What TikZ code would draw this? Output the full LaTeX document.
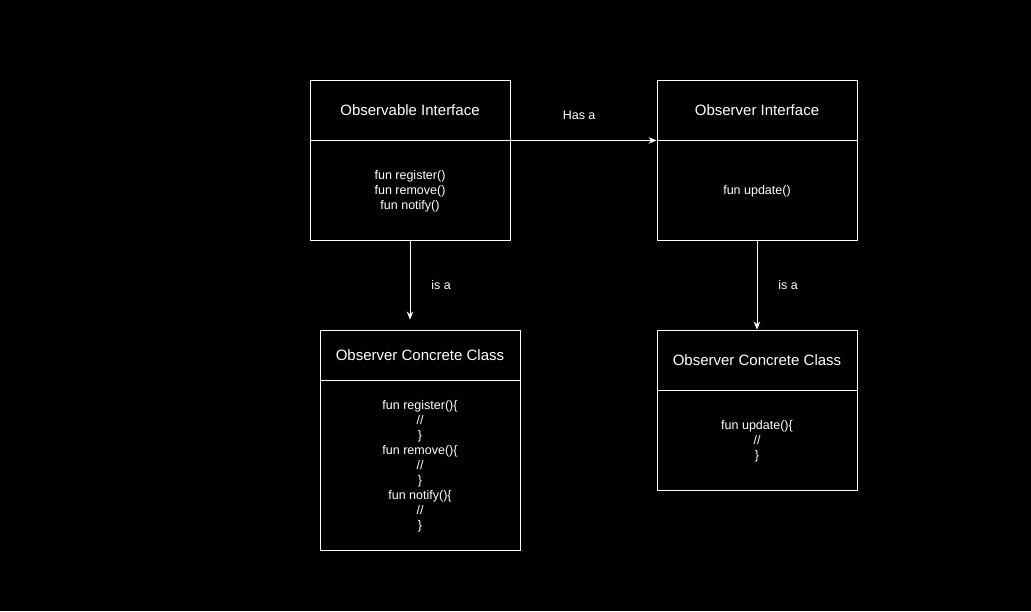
\documentclass[tikz,border=0pt]{standalone}
\usepackage{fontspec}
\setmainfont{Liberation Sans}
\usetikzlibrary{arrows.meta, positioning}

\begin{document}
\begin{tikzpicture}[x=1pt, y=-1pt,
		part/.style = {draw=white, line width=0.9pt, text=white, minimum width=200pt, inner sep=0pt, align=center},
		head/.style = {part, minimum height=60pt, font=\fontsize{15}{17}\selectfont},
		body/.style = {part, font=\fontsize{12.5}{15}\selectfont},
		link/.style = {draw=white, line width=0.9pt, -{Stealth[length=8pt, width=6.5pt]}},
		tag/.style = {text=white, inner sep=0pt, font=\fontsize{12.5}{14}\selectfont}]
		\fill[black] (0,0) rectangle (1031,611);

		% interfaces
		\node[head] (obsHead) at (410,110) {Observable Interface};
		\node[body, minimum height=100pt, below=0pt of obsHead] (obsBody) {fun register()\\fun remove()\\fun notify()};
		\node[head] (obrHead) at (757,110) {Observer Interface};
		\node[body, minimum height=100pt, below=0pt of obrHead] (obrBody) {fun update()};

		% concrete classes
		\node[head, minimum height=50pt] (concLHead) at (420,355) {Observer Concrete Class};
		\node[body, minimum height=170pt, below=0pt of concLHead] (concLBody) {fun register()\{\\//\\\}\\fun remove()\{\\//\\\}\\fun notify()\{\\//\\\}};
		\node[head] (concRHead) at (757,360) {Observer Concrete Class};
		\node[body, minimum height=100pt, below=0pt of concRHead] (concRBody) {fun update()\{\\//\\\}};

		\draw[link] (obsHead.south east) -- (obrHead.south west) node[tag, pos=0.47, above=20pt] {Has a};
		\draw[link, shorten >=10pt] (obsBody.south) -- (obsBody.south |- concLHead.north) node[tag, midway, right=21pt] {is a};
		\draw[link] (obrBody.south) -- (concRHead.north) node[tag, midway, right=21pt] {is a};
\end{tikzpicture}
\end{document}
